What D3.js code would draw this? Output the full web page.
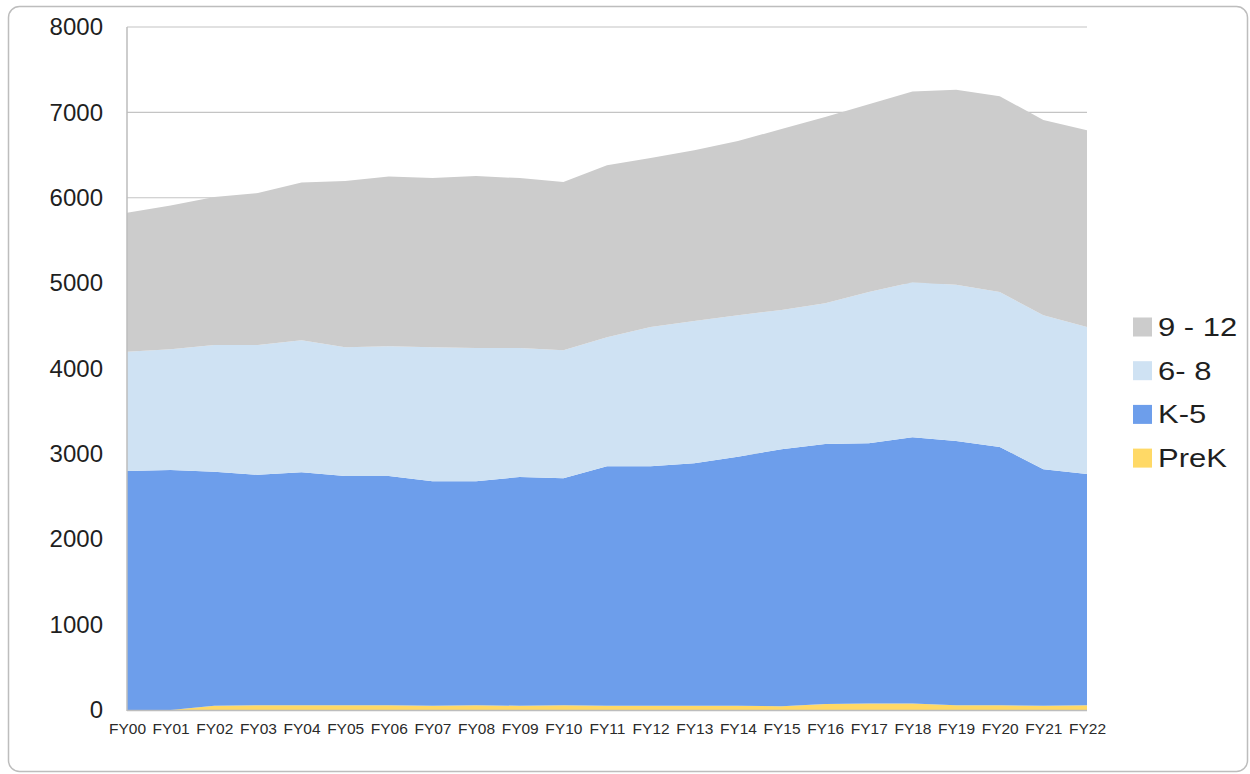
<!DOCTYPE html>
<html>
<head>
<meta charset="utf-8">
<script src="https://cdn.jsdelivr.net/npm/d3@7"></script>
<style>
  html, body { margin: 0; padding: 0; background: #fff; }
  svg { display: block; }
</style>
</head>
<body>
<svg id="chart" width="1250" height="774"></svg>
<script>
const years = ["FY00","FY01","FY02","FY03","FY04","FY05","FY06","FY07","FY08","FY09","FY10","FY11","FY12","FY13","FY14","FY15","FY16","FY17","FY18","FY19","FY20","FY21","FY22"];
const preK   = [0,0,50,55,55,55,55,50,55,50,55,50,50,50,50,45,70,75,75,55,55,50,55];
const k5     = [2800,2810,2740,2700,2730,2685,2685,2630,2625,2680,2660,2805,2805,2840,2915,3010,3045,3050,3120,3095,3025,2770,2710];
const g6to8  = [1395,1415,1485,1520,1545,1510,1520,1570,1560,1510,1500,1510,1630,1665,1660,1630,1650,1770,1815,1830,1815,1805,1720];
const g9to12 = [1630,1685,1735,1780,1850,1945,1990,1980,2015,1990,1970,2015,1980,2000,2040,2120,2180,2200,2235,2285,2295,2285,2305];
const seriesNames = ["PreK","K-5","6- 8","9 - 12"];
const seriesValues = [preK, k5, g6to8, g9to12];
const seriesColors = ["#ffd966","#6d9eeb","#cfe2f3","#cccccc"];
const yTicks = [0,1000,2000,3000,4000,5000,6000,7000,8000];

(function () {
const svg = d3.select("#chart");
const font = "'Liberation Sans', Arial, sans-serif";

// outer border
svg.append("rect")
  .attr("x", 8.5).attr("y", 6.5)
  .attr("width", 1239).attr("height", 765)
  .attr("rx", 11).attr("ry", 11)
  .attr("fill", "#fff").attr("stroke", "#bdbdbd").attr("stroke-width", 1.5);

const pl = 127, pr = 1087, pt = 27, pb = 710;

const x = d3.scalePoint().domain(years).range([pl, pr]);
const y = d3.scaleLinear().domain([0, 8000]).range([pb, pt]);

const table = years.map((yr, i) => {
  const row = { year: yr };
  seriesNames.forEach((n, j) => row[n] = seriesValues[j][i]);
  return row;
});
const stack = d3.stack().keys(seriesNames)(table);

// gridlines
svg.append("g")
  .selectAll("line").data(yTicks).join("line")
  .attr("x1", pl).attr("x2", pr)
  .attr("y1", d => y(d)).attr("y2", d => y(d))
  .attr("stroke", "#c4c4c4").attr("stroke-width", 1.2);

// areas
const area = d3.area()
  .x(d => x(d.data.year))
  .y0(d => y(d[0]))
  .y1(d => y(d[1]));

svg.append("g")
  .selectAll("path").data(stack).join("path")
  .attr("d", area)
  .attr("fill", (d, i) => seriesColors[i]);

// baseline and y axis line
svg.append("line")
  .attr("x1", pl).attr("x2", pr)
  .attr("y1", y(0) + 0.5).attr("y2", y(0) + 0.5)
  .attr("stroke", "#bdbdbd").attr("stroke-width", 1.5);
svg.append("line")
  .attr("x1", pl).attr("x2", pl)
  .attr("y1", pt).attr("y2", pb + 1)
  .attr("stroke", "#bdbdbd").attr("stroke-width", 1.5);

// y axis labels
const yAxis = d3.axisLeft(y).tickValues(yTicks).tickSize(0).tickPadding(24).tickFormat(d3.format("d"));
const gy = svg.append("g").attr("transform", `translate(${pl},0)`).call(yAxis);
gy.select(".domain").remove();
gy.selectAll("text")
  .attr("font-family", font).attr("font-size", 24).attr("fill", "#1f1f1f");

// x axis labels
const xAxis = d3.axisBottom(x).tickSize(0).tickPadding(13);
const gx = svg.append("g").attr("transform", `translate(0,${pb})`).call(xAxis);
gx.select(".domain").remove();
gx.selectAll("text")
  .attr("font-family", font).attr("font-size", 15.5).attr("fill", "#2a2a2a");

// legend
const legendOrder = [3, 2, 1, 0];
const lg = svg.append("g");
legendOrder.forEach((si, k) => {
  const cy = 327 + k * 43.7;
  lg.append("rect")
    .attr("x", 1133).attr("y", cy - 9.5)
    .attr("width", 19).attr("height", 19)
    .attr("fill", seriesColors[si]);
  lg.append("text")
    .attr("transform", `translate(1158,${cy}) scale(1.24,1)`)
    .attr("dy", "0.36em")
    .attr("font-family", font).attr("font-size", 25).attr("fill", "#1f1f1f")
    .text(seriesNames[si]);
});
})();
</script>
</body>
</html>
